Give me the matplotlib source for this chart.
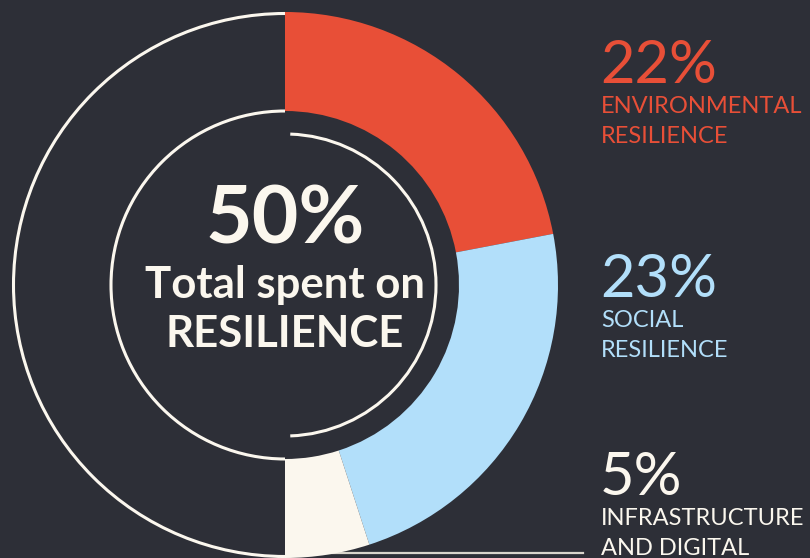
import numpy as np
import matplotlib.pyplot as plt
from matplotlib.patches import Wedge, Arc

# data
categories = ['ENVIRONMENTAL\nRESILIENCE', 'SOCIAL\nRESILIENCE', 'INFRASTRUCTURE\nAND DIGITAL']
shares = [22, 23, 5]
total_label = '50%'

# colours
bg = '#2D2F37'
red = '#E84F37'
blue = '#B2DFFA'
cream = '#FBF7EE'
colors = [red, blue, cream]

W, H = 810, 558
fig = plt.figure(figsize=(W / 100, H / 100), dpi=100)
fig.patch.set_facecolor(bg)
ax = fig.add_axes([0, 0, 1, 1])
ax.set_facecolor(bg)
ax.set_xlim(0, W)
ax.set_ylim(0, H)
ax.set_aspect('equal')
ax.axis('off')

def py(y):
    # pixel row -> data y
    return H - y

cx, cy = 285, py(285)
r_out, r_in = 273, 174

# leader line for the last slice
ax.plot([300, 583], [py(553), py(553)], color='#D9D5CC', lw=1.6, zorder=1)

# slices, clockwise from the top
start = 90
for share, col in zip(shares, colors):
    end = start - share * 3.6
    ax.add_patch(Wedge((cx, cy), r_out, end, start, width=r_out - r_in,
                       facecolor=col, edgecolor='none', zorder=3))
    start = end

# outline rings
ax.add_patch(Arc((cx, cy), 2 * (r_out - 1.5), 2 * (r_out - 1.5), theta1=90, theta2=270,
                 color=cream, lw=2.2, zorder=2))
ax.add_patch(Arc((cx, cy), 2 * r_in, 2 * r_in, theta1=90, theta2=270,
                 color=cream, lw=2.2, zorder=2))
ax.add_patch(Arc((cx, cy), 2 * 151, 2 * 151, theta1=-88, theta2=88,
                 color=cream, lw=2.2, zorder=2))

# centre text
ax.text(cx, py(243), total_label, ha='center', va='baseline', color=cream,
        fontsize=58, fontweight='bold', family='Lato')
ax.text(cx, py(298), 'Total spent on', ha='center', va='baseline', color=cream,
        fontsize=31.5, fontweight='bold', family='Lato')
ax.text(cx, py(347), 'RESILIENCE', ha='center', va='baseline', color=cream,
        fontsize=31.5, fontweight='bold', family='Lato')

# side labels
label_y = [83, 297, 495]
for share, cat, col, y0 in zip(shares, categories, colors, label_y):
    ax.text(600, py(y0), f'{share}%', ha='left', va='baseline', color=col,
            fontsize=43, fontweight='normal', family='Lato')
    for k, line in enumerate(cat.split('\n')):
        ax.text(601, py(y0 + 30 + 30 * k), line, ha='left', va='baseline', color=col,
                fontsize=17, fontweight='normal', family='Lato')

fig.savefig('out.png', dpi=100, facecolor=bg)
